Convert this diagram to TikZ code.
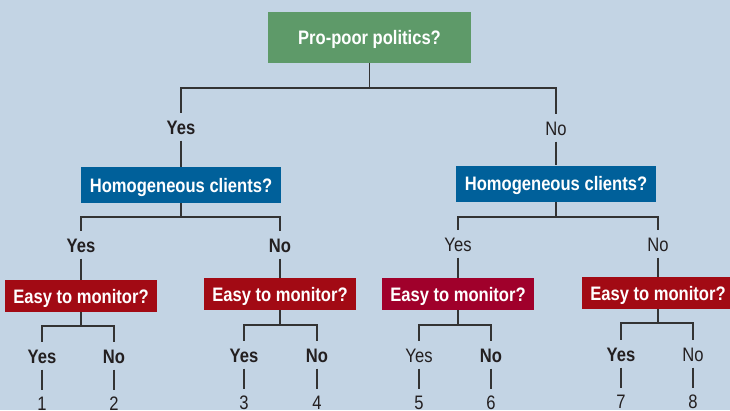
\documentclass[tikz,border=0pt]{standalone}
\usepackage{fontspec}
\setmainfont{Liberation Sans}[FakeStretch=0.85]
\usetikzlibrary{positioning}
\definecolor{bgblue}{HTML}{C3D4E4}
\definecolor{rootgreen}{HTML}{5E9A69}
\definecolor{qblue}{HTML}{00609A}
\definecolor{qred}{HTML}{A20A14}
\definecolor{qcrimson}{HTML}{A0002B}
\definecolor{ink}{HTML}{231F20}
\definecolor{wire}{HTML}{333333}
\tikzset{
box/.style={text=white, font=\bfseries\fontsize{19.5}{22}\selectfont, inner sep=0pt, text height=14pt, text depth=0pt}, % question boxes
rootbox/.style={box, fill=rootgreen, minimum width=203pt, minimum height=51pt},
clientbox/.style={box, fill=qblue, minimum width=200pt, minimum height=36pt},
monbox/.style={box, fill=qred, minimum width=152pt, minimum height=32pt},
ans/.style={text=ink, font=\bfseries\fontsize{19.5}{22}\selectfont, inner sep=6.5pt, text height=14pt, text depth=0pt}, % Yes / No labels
ansl/.style={ans, font=\fontsize{19.5}{22}\selectfont},
leaf/.style={ansl},
wire/.style={draw=wire, line width=1.4pt},
}
\begin{document}
\begin{tikzpicture}[x=1pt, y=-1pt]
    \useasboundingbox (0,0) rectangle (730,410);
    \clip (0,0) rectangle (730,410);
    \fill[bgblue] (0,0) rectangle (730,410);
    % questions
    \node[rootbox] (root) at (369.5,37.5) {Pro-poor politics?};
    \node[clientbox] (hL) at (181,185) {Homogeneous clients?};
    \node[clientbox] (hR) at (556,183.5) {Homogeneous clients?};
    \node[monbox] (m1) at (81,296) {Easy to monitor?};
    \node[monbox] (m2) at (280,294) {Easy to monitor?};
    \node[monbox, fill=qcrimson] (m3) at (458,294) {Easy to monitor?};
    \node[monbox] (m4) at (658,293) {Easy to monitor?};
    % first answers
    \node[ans] (yA) at (181,127) {Yes};
    \node[ansl] (nA) at (556,128) {No};
    % second answers
    \node[ans] (yL) at (81,245) {Yes};
    \node[ans] (nL) at (280,245) {No};
    \node[ansl] (yR) at (458,244) {Yes};
    \node[ansl] (nR) at (658,244) {No};
    % third answers
    \node[ans] (y1) at (42,356) {Yes};
    \node[ans] (n1) at (114,356) {No};
    \node[ans] (y2) at (244,355) {Yes};
    \node[ans] (n2) at (317,355) {No};
    \node[ansl] (y3) at (419,355) {Yes};
    \node[ans] (n3) at (491,355) {No};
    \node[ans] (y4) at (621,354) {Yes};
    \node[ansl] (n4) at (693,354) {No};
    % outcomes
    \foreach \k/\a in {1/y1, 2/n1, 3/y2, 4/n2, 5/y3, 6/n3, 7/y4, 8/n4}
        \node[leaf, below=20pt of \a] (o\k) {\k};
    % junctions
    \coordinate (j0) at (369.5,88);
    \coordinate (jL) at (181,217);
    \coordinate (jR) at (556,217);
    \coordinate (j1) at (81,326);
    \coordinate (j2) at (280,325);
    \coordinate (j3) at (458,325);
    \coordinate (j4) at (658,323);
    \draw[wire]
    (root) -- (j0) -| (yA) (j0) -| (nA)
    (yA) -- (hL) (nA) -- (hR)
    (hL) -- (jL) -| (yL) (jL) -| (nL)
    (hR) -- (jR) -| (yR) (jR) -| (nR)
    (yL) -- (m1) (nL) -- (m2) (yR) -- (m3) (nR) -- (m4)
    (m1) -- (j1) -| (y1) (j1) -| (n1)
    (m2) -- (j2) -| (y2) (j2) -| (n2)
    (m3) -- (j3) -| (y3) (j3) -| (n3)
    (m4) -- (j4) -| (y4) (j4) -| (n4)
    ;
    \foreach \k/\a in {1/y1, 2/n1, 3/y2, 4/n2, 5/y3, 6/n3, 7/y4, 8/n4}
        \draw[wire] (\a) -- (o\k);
\end{tikzpicture}
\end{document}
